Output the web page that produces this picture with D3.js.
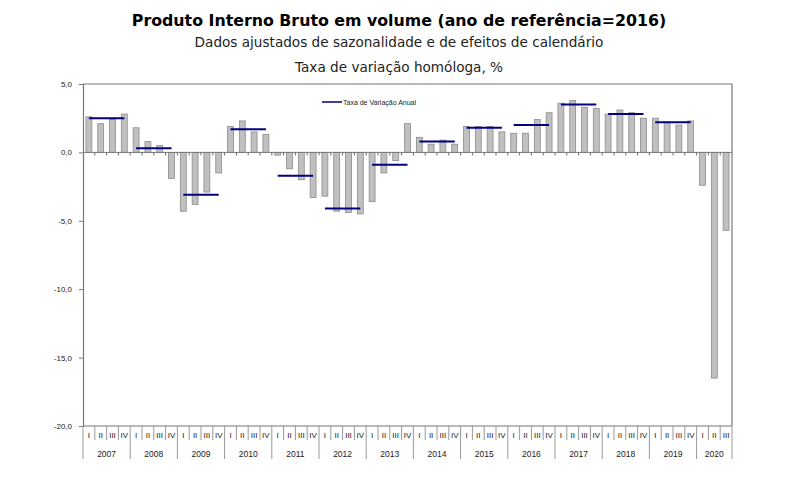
<!DOCTYPE html>
<html lang="pt">
<head>
<meta charset="utf-8" />
<script src="https://d3js.org/d3.v7.min.js"></script>
<style>
  body { margin: 0; background: #fff; }
  svg { display: block; }
</style>
</head>
<body>
<script>
const w = 800;
const h = 484;

// quarterly year-on-year rate, 2007 Q1 .. 2020 Q3
const years = [2007, 2008, 2009, 2010, 2011, 2012, 2013, 2014, 2015, 2016, 2017, 2018, 2019, 2020];
const quarterNames = ["I", "II", "III", "IV"];
const quarterly = [
  2.6, 2.1, 2.4, 2.8,
  1.8, 0.8, 0.5, -1.9,
  -4.3, -3.8, -2.9, -1.5,
  1.9, 2.3, 1.5, 1.3,
  -0.2, -1.2, -2.0, -3.3,
  -3.2, -4.3, -4.4, -4.5,
  -3.6, -1.5, -0.6, 2.1,
  1.1, 0.6, 0.9, 0.6,
  1.9, 1.9, 1.9, 1.5,
  1.4, 1.4, 2.4, 2.9,
  3.6, 3.8, 3.3, 3.2,
  2.8, 3.1, 2.9, 2.5,
  2.5, 2.2, 2.0, 2.3,
  -2.4, -16.5, -5.7
];
// annual rate (2007..2019)
const annual = [2.5, 0.3, -3.1, 1.7, -1.7, -4.1, -0.9, 0.8, 1.8, 2.0, 3.5, 2.8, 2.2];
const yTicks = [5, 0, -5, -10, -15, -20];

const plotL = 83, plotR = 732, plotT = 84, plotB = 426;

const data = quarterly.map((v, i) => ({
  key: years[Math.floor(i / 4)] + "-" + quarterNames[i % 4],
  year: years[Math.floor(i / 4)],
  q: quarterNames[i % 4],
  value: v
}));

const x = d3.scaleBand()
  .domain(data.map(d => d.key))
  .range([plotL, plotR])
  .paddingInner(0.5)
  .paddingOuter(0.25);

const y = d3.scaleLinear()
  .domain([-20, 5])
  .range([plotB, plotT]);

const pt = d3.formatLocale({ decimal: ",", thousands: ".", grouping: [3], currency: ["", "€"], minus: "-" });
const fmt = pt.format(".1f");

const svg = d3.select("body").append("svg")
  .attr("width", w)
  .attr("height", h)
  .style("font-family", "'Liberation Sans', Arial, sans-serif");

// titles
svg.append("text")
  .attr("x", 399).attr("y", 26)
  .attr("text-anchor", "middle")
  .style("font-family", "'DejaVu Sans', Verdana, sans-serif")
  .style("font-weight", "bold")
  .style("font-size", "15.8px")
  .text("Produto Interno Bruto em volume (ano de referência=2016)");

svg.append("text")
  .attr("x", 399).attr("y", 47)
  .attr("text-anchor", "middle")
  .style("font-family", "'DejaVu Sans', sans-serif")
  .style("font-size", "13.6px")
  .style("fill", "#222")
  .text("Dados ajustados de sazonalidade e de efeitos de calendário");

svg.append("text")
  .attr("x", 399).attr("y", 72)
  .attr("text-anchor", "middle")
  .style("font-family", "'DejaVu Sans', sans-serif")
  .style("font-size", "13.6px")
  .style("fill", "#222")
  .text("Taxa de variação homóloga, %");

// frame (top and right)
svg.append("path")
  .attr("d", `M${plotL},${plotT}H${plotR}V${plotB}`)
  .attr("fill", "none")
  .attr("stroke", "#777")
  .attr("stroke-width", 1.2);

// bars
const bandStart = i => plotL + i * (plotR - plotL) / data.length;

svg.selectAll("rect.bar")
  .data(data)
  .enter()
  .append("rect")
  .attr("class", "bar")
  .attr("x", d => x(d.key))
  .attr("y", d => y(Math.max(0, d.value)))
  .attr("width", x.bandwidth())
  .attr("height", d => Math.abs(y(d.value) - y(0)))
  .attr("fill", "#c0c0c0")
  .attr("stroke", "#8a8a8a")
  .attr("stroke-width", 0.8);

// zero line with category ticks
svg.append("line")
  .attr("x1", plotL).attr("x2", plotR)
  .attr("y1", y(0)).attr("y2", y(0))
  .attr("stroke", "#777")
  .attr("stroke-width", 1);

svg.selectAll("line.ztick")
  .data(d3.range(1, data.length))
  .enter()
  .append("line")
  .attr("class", "ztick")
  .attr("x1", i => bandStart(i)).attr("x2", i => bandStart(i))
  .attr("y1", y(0)).attr("y2", y(0) + 3)
  .attr("stroke", "#666");

// annual lines
const annualData = annual.map((v, i) => ({ year: years[i], value: v }));
svg.selectAll("line.annual")
  .data(annualData)
  .enter()
  .append("line")
  .attr("class", "annual")
  .attr("x1", d => x(d.year + "-I") + x.bandwidth() / 2)
  .attr("x2", d => x(d.year + "-IV") + x.bandwidth() / 2)
  .attr("y1", d => y(d.value))
  .attr("y2", d => y(d.value))
  .attr("stroke", "#000080")
  .attr("stroke-width", 2);

// y axis
const yAxis = d3.axisLeft(y)
  .tickValues(yTicks)
  .tickSize(4)
  .tickFormat(fmt);

const gy = svg.append("g")
  .attr("transform", `translate(${plotL},0)`)
  .call(yAxis);
gy.select(".domain").attr("stroke", "#777").attr("stroke-width", 1.2);
gy.selectAll(".tick line").attr("stroke", "#777");
gy.selectAll(".tick text")
  .attr("x", -11)
  .style("font-size", "8px")
  .style("font-family", "'Liberation Sans', Arial, sans-serif")
  .attr("fill", "#222");

// x axis: quarter labels
const xAxis = d3.axisBottom(x)
  .tickSize(0)
  .tickPadding(6)
  .tickFormat(k => k.split("-")[1]);

const gx = svg.append("g")
  .attr("transform", `translate(0,${plotB})`)
  .call(xAxis);
gx.select(".domain").remove();
gx.selectAll(".tick text")
  .style("font-size", "8px")
  .style("font-family", "'Liberation Sans', Arial, sans-serif")
  .attr("fill", "#222");

svg.append("line")
  .attr("x1", plotL).attr("x2", plotR)
  .attr("y1", plotB).attr("y2", plotB)
  .attr("stroke", "#777")
  .attr("stroke-width", 1.2);

// quarter separators
svg.selectAll("line.qsep")
  .data(d3.range(1, data.length).filter(i => i % 4 !== 0))
  .enter()
  .append("line")
  .attr("class", "qsep")
  .attr("x1", i => bandStart(i)).attr("x2", i => bandStart(i))
  .attr("y1", plotB).attr("y2", plotB + 14)
  .attr("stroke", "#999");

// year separators and labels
svg.selectAll("line.ysep")
  .data(d3.range(0, data.length + 1, 4).concat([data.length]))
  .enter()
  .append("line")
  .attr("class", "ysep")
  .attr("x1", i => bandStart(i)).attr("x2", i => bandStart(i))
  .attr("y1", plotB).attr("y2", plotB + 33)
  .attr("stroke", "#999");

svg.selectAll("text.year")
  .data(years)
  .enter()
  .append("text")
  .attr("class", "year")
  .attr("x", (yr, i) => {
    const n = data.filter(d => d.year === yr).length;
    return (bandStart(i * 4) + bandStart(i * 4 + n)) / 2;
  })
  .attr("y", plotB + 31)
  .attr("text-anchor", "middle")
  .style("font-size", "8.5px")
  .attr("fill", "#222")
  .text(d => d);

// legend
svg.append("line")
  .attr("x1", 322).attr("x2", 342)
  .attr("y1", 102).attr("y2", 102)
  .attr("stroke", "#000080")
  .attr("stroke-width", 1.5);
svg.append("text")
  .attr("x", 343).attr("y", 104.5)
  .style("font-size", "7px")
  .attr("fill", "#222")
  .text("Taxa de Variação Anual");
</script>
</body>
</html>
